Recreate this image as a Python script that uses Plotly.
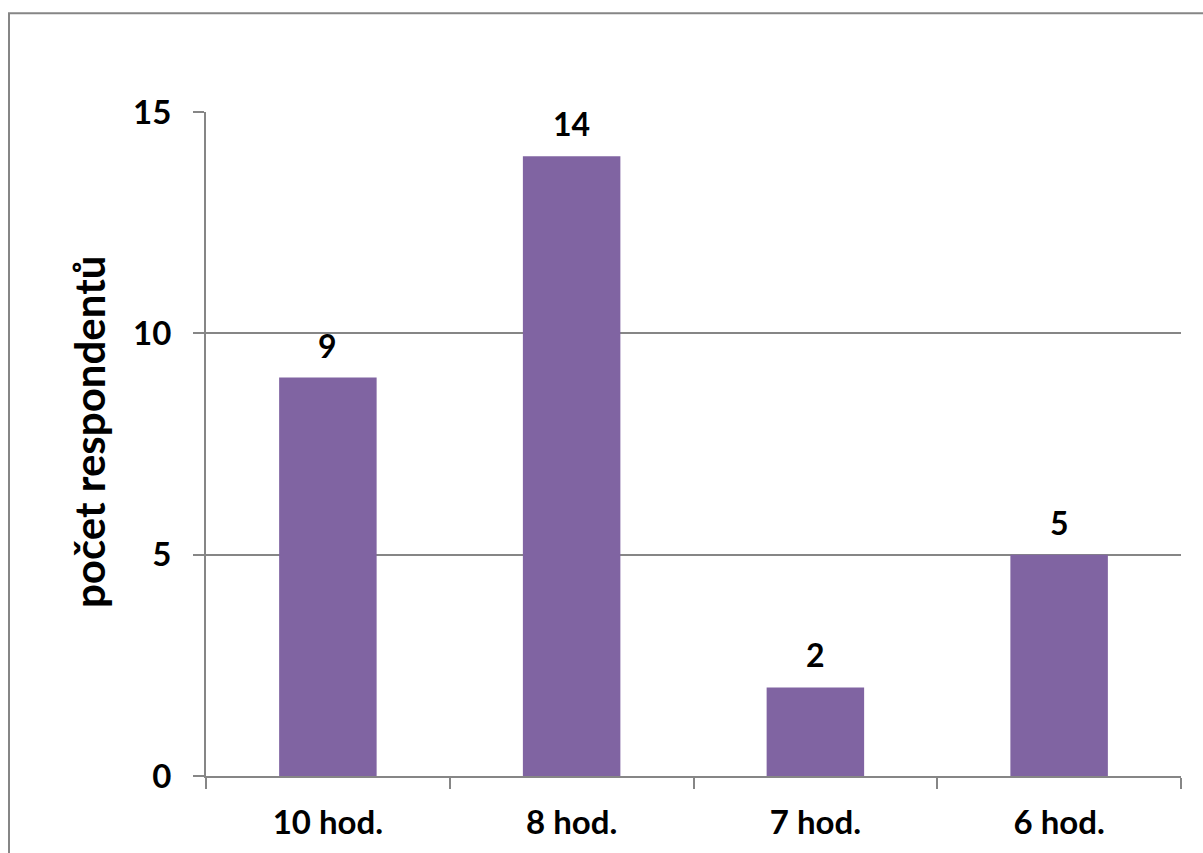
import plotly.graph_objects as go

# Survey results: number of respondents by hours
categories = ["10 hod.", "8 hod.", "7 hod.", "6 hod."]
respondents = [9, 14, 2, 5]
y_ticks = [0, 5, 10, 15]

W, H = 1203, 853
L, R, T, B = 206, 22, 112, 75
GRAY = "#868686"
FONT = "Lato"

fig = go.Figure(
    go.Bar(
        x=categories,
        y=respondents,
        marker=dict(color="#8064A2", line=dict(width=0)),
        hoverinfo="x+y",
    )
)

# Value labels above each bar
for cat, val in zip(categories, respondents):
    fig.add_annotation(
        x=cat, y=val, text=str(val), showarrow=False,
        xanchor="center", yanchor="bottom", yshift=11,
        font=dict(family=FONT, size=32, color="black", weight="bold"),
    )

# Outer chart frame, positioned in pixel terms relative to the plot area
pw, ph = W - L - R, H - T - B


def px_x(x):
    return (x - L) / pw


def px_y(y):
    return (H - B - y) / ph


fig.add_shape(
    type="rect", xref="paper", yref="paper",
    x0=px_x(9), x1=px_x(1215), y0=px_y(13), y1=px_y(870),
    line=dict(color=GRAY, width=2), layer="below",
)

fig.add_annotation(
    text="počet respondentů", textangle=-90,
    xref="paper", yref="paper", x=px_x(89), y=px_y(433),
    showarrow=False, xanchor="center", yanchor="middle",
    font=dict(family=FONT, size=42, color="black", weight="bold"),
)

fig.update_layout(
    width=W, height=H,
    margin=dict(l=L, r=R, t=T, b=B, pad=0),
    paper_bgcolor="white", plot_bgcolor="white",
    bargap=0.6, showlegend=False,
    font=dict(family=FONT, color="black"),
)

fig.update_xaxes(
    showgrid=False, showline=True, linecolor=GRAY, linewidth=2,
    ticks="outside", tickson="boundaries", ticklen=11, tickwidth=2, tickcolor=GRAY,
    tickfont=dict(family=FONT, size=33, color="black", weight="bold"),
    ticklabelstandoff=16,
)
fig.update_yaxes(
    range=[0, 15], tickvals=y_ticks,
    showgrid=True, gridcolor=GRAY, gridwidth=1.5,
    showline=True, linecolor=GRAY, linewidth=2, zeroline=False,
    ticks="outside", ticklen=11, tickwidth=2, tickcolor=GRAY,
    tickfont=dict(family=FONT, size=33, color="black", weight="bold"),
    ticklabelstandoff=15,
)

fig.write_html("out.html")
